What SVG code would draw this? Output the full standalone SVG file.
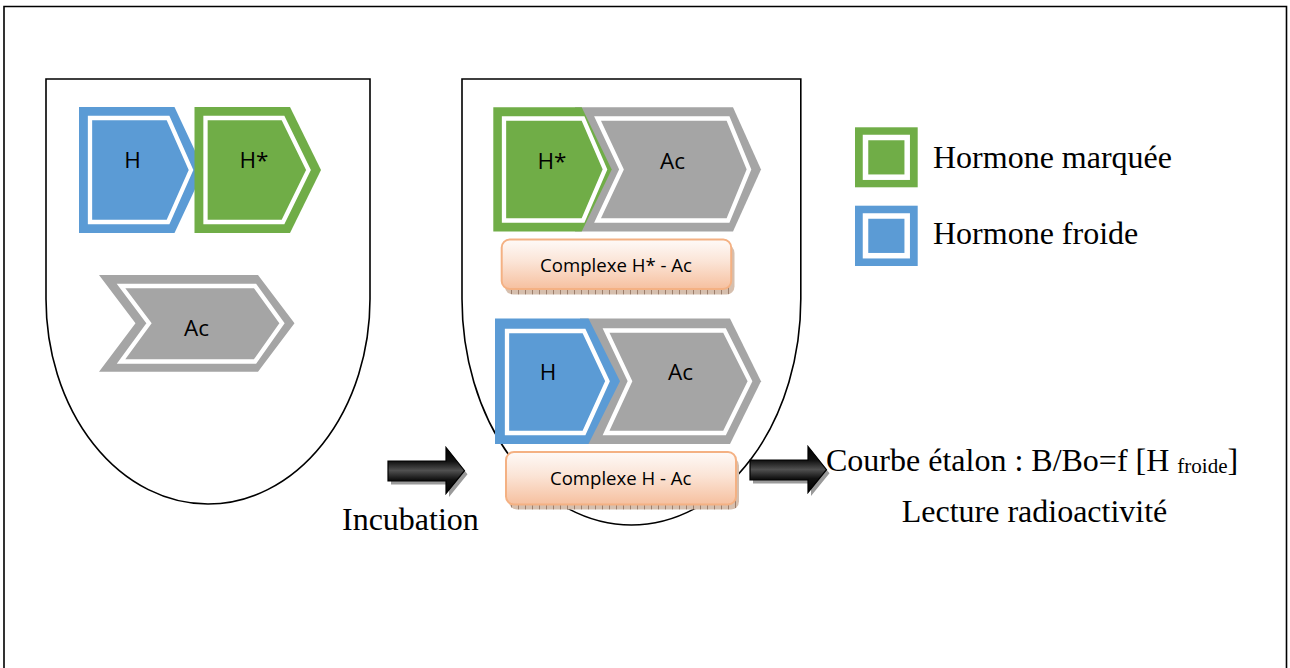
<svg xmlns="http://www.w3.org/2000/svg" width="1290" height="668" viewBox="0 0 1290 668">
  <style>
    .frame { fill: none; stroke: #000; stroke-width: 1.6; }
    .shield { fill: #fff; stroke: #000; stroke-width: 1.6; }
    .blue { fill: #5b9bd5; }
    .green { fill: #70ad47; }
    .grey { fill: #a5a5a5; }
    .inner { stroke: #fff; stroke-width: 4.3; stroke-linejoin: miter; }
    .lbl { font-family: "Open Sans", "Liberation Sans", sans-serif; font-size: 22.5px; fill: #000; text-anchor: middle; }
    .cplx { font-family: "Open Sans", "Liberation Sans", sans-serif; font-size: 18.5px; fill: #000; }
    .box { fill: url(#boxFill); stroke: #f4b183; stroke-width: 2; }
    .boxShadow { fill: url(#hatch); }
    .serif { font-family: "Liberation Serif", "Times New Roman", serif; font-size: 32px; fill: #000; }
    .arrow { fill: url(#arrowFill); stroke: #000; stroke-width: 1.2; }
    .arrowShadow { fill: #9a9a9a; }
  </style>
  <defs>
    <linearGradient id="boxFill" x1="0" y1="0" x2="0" y2="1">
      <stop offset="0" stop-color="#fefaf8"/>
      <stop offset="0.45" stop-color="#fbe4d6"/>
      <stop offset="1" stop-color="#f6c09f"/>
    </linearGradient>
    <pattern id="hatch" width="7" height="10" patternUnits="userSpaceOnUse">
      <rect width="7" height="10" fill="#d6bfae"/>
      <line x1="0.5" y1="0" x2="0.5" y2="10" stroke="#9d7f6c" stroke-width="1"/>
    </pattern>
    <linearGradient id="arrowFill" x1="0" y1="0" x2="0" y2="1">
      <stop offset="0" stop-color="#000"/>
      <stop offset="0.3" stop-color="#111"/>
      <stop offset="0.5" stop-color="#505050"/>
      <stop offset="0.7" stop-color="#111"/>
      <stop offset="1" stop-color="#000"/>
    </linearGradient>
  </defs>

  <rect width="1290" height="668" fill="#fff"/>
  <!-- page frame (open at the bottom) -->
  <path class="frame" d="M4,668 V6.5 H1286.5 V668"/>

  <!-- left tube: before incubation -->
  <g id="tube-before">
    <path class="shield" d="M46,79 H370 V299 A162,205 0 0 1 46,299 Z"/>
  </g>
  <g id="hormone-cold-1">
    <polygon class="blue" points="79,107 174.5,107 204,170 174.5,233 79,233"/>
    <polygon class="blue inner" points="90,118 168,118 191,170 168,222 90,222"/>
    <text class="lbl" x="132.5" y="168">H</text>
  </g>
  <g id="hormone-labelled-1">
    <polygon class="green" points="194.5,107 290,107 321,170 290,233 194.5,233"/>
    <polygon class="green inner" points="205.5,118 283,118 308.5,170 283,222 205.5,222"/>
    <text class="lbl" x="254" y="168">H*</text>
  </g>
  <g id="antibody-1">
    <polygon class="grey" points="99,275 258,275 294.5,323.3 258,371.7 99,371.7 135.5,323.3"/>
    <polygon class="grey inner" points="121,286 255,286 282,323.3 255,361.5 121,361.5 149,323.3"/>
    <text class="lbl" x="196.5" y="336">Ac</text>
  </g>

  <!-- right tube: after incubation -->
  <g id="tube-after">
    <path class="shield" d="M462,79 H800.8 V299 A169.4,226 0 0 1 462,299 Z"/>
  </g>
  <g id="antibody-2">
    <polygon class="grey" points="575,107.3 733,107.3 761,169.4 733,231.5 575,231.5"/>
    <polygon class="grey inner" points="597.5,118.5 728,118.5 749,169.4 728,220.5 597.5,220.5 621.5,169.4"/>
    <text class="lbl" x="672.5" y="168.5">Ac</text>
  </g>
  <g id="hormone-labelled-2">
    <polygon class="green" points="493.3,107.3 581.7,107.3 611.7,169.4 581.7,231.5 493.3,231.5"/>
    <polygon class="green inner" points="504,118.5 583,118.5 605,169.4 583,220.5 504,220.5"/>
    <text class="lbl" x="552" y="168.5">H*</text>
  </g>
  <g id="complex-labelled">
    <rect class="boxShadow" x="505" y="245" width="229.5" height="49.5" rx="8"/>
    <rect class="box" x="501.7" y="239.5" width="229.5" height="49.5" rx="8"/>
    <text class="cplx" x="540" y="271.5" textLength="152" lengthAdjust="spacingAndGlyphs">Complexe H* - Ac</text>
  </g>
  <g id="antibody-3">
    <polygon class="grey" points="580,318.5 730,318.5 761,381.2 730,444 580,444"/>
    <polygon class="grey inner" points="606,330.5 724.5,330.5 750,381.2 724.5,433 606,433 630,381.2"/>
    <text class="lbl" x="680.5" y="380">Ac</text>
  </g>
  <g id="hormone-cold-2">
    <polygon class="blue" points="495,318.5 588.5,318.5 620,381.2 588.5,444 495,444"/>
    <polygon class="blue inner" points="507,331 584,331 607.5,381.2 584,433 507,433"/>
    <text class="lbl" x="548" y="380">H</text>
  </g>
  <g id="complex-cold">
    <rect class="boxShadow" x="509" y="457.5" width="230" height="52" rx="8"/>
    <rect class="box" x="506" y="452" width="230" height="52.5" rx="8"/>
    <text class="cplx" x="550" y="484.5" textLength="141.5" lengthAdjust="spacingAndGlyphs">Complexe H - Ac</text>
  </g>

  <!-- legend -->
  <g id="legend-labelled">
    <rect class="green" x="855" y="127.3" width="62.7" height="60"/>
    <rect class="green" x="865.5" y="137.5" width="41.7" height="39.7" stroke="#fff" stroke-width="5.5"/>
    <text class="serif" x="933" y="168" font-size="33.2">Hormone marquée</text>
  </g>
  <g id="legend-cold">
    <rect class="blue" x="855" y="205.7" width="62.7" height="60.3"/>
    <rect class="blue" x="865.5" y="216" width="41.7" height="39.7" stroke="#fff" stroke-width="5.5"/>
    <text class="serif" x="933" y="244" font-size="33.2">Hormone froide</text>
  </g>

  <!-- process arrows -->
  <g id="connectors">
    <polygon class="arrowShadow" points="391,464.5 449,464.5 449,451 467.5,474.2 449,497 449,484.5 391,484.5"/>
    <polygon class="arrow" points="388,461 446,461 446,447.5 464.5,470.7 446,493.5 446,481 388,481"/>
    <polygon class="arrowShadow" points="753,463.5 811,463.5 811,450 829.5,473.2 811,496 811,483.5 753,483.5"/>
    <polygon class="arrow" points="750,460 808,460 808,446.5 826.5,469.7 808,492.5 808,480 750,480"/>
  </g>

  <g id="step-labels">
    <text class="serif" x="342" y="530" font-size="32.3">Incubation</text>
    <text class="serif" x="826" y="471" font-size="33.3">Courbe étalon : B/Bo=f [H <tspan font-size="21" dy="2">froide</tspan><tspan dy="-2">]</tspan></text>
    <text class="serif" x="1034.5" y="522" font-size="32.8" text-anchor="middle">Lecture radioactivité</text>
  </g>
</svg>
